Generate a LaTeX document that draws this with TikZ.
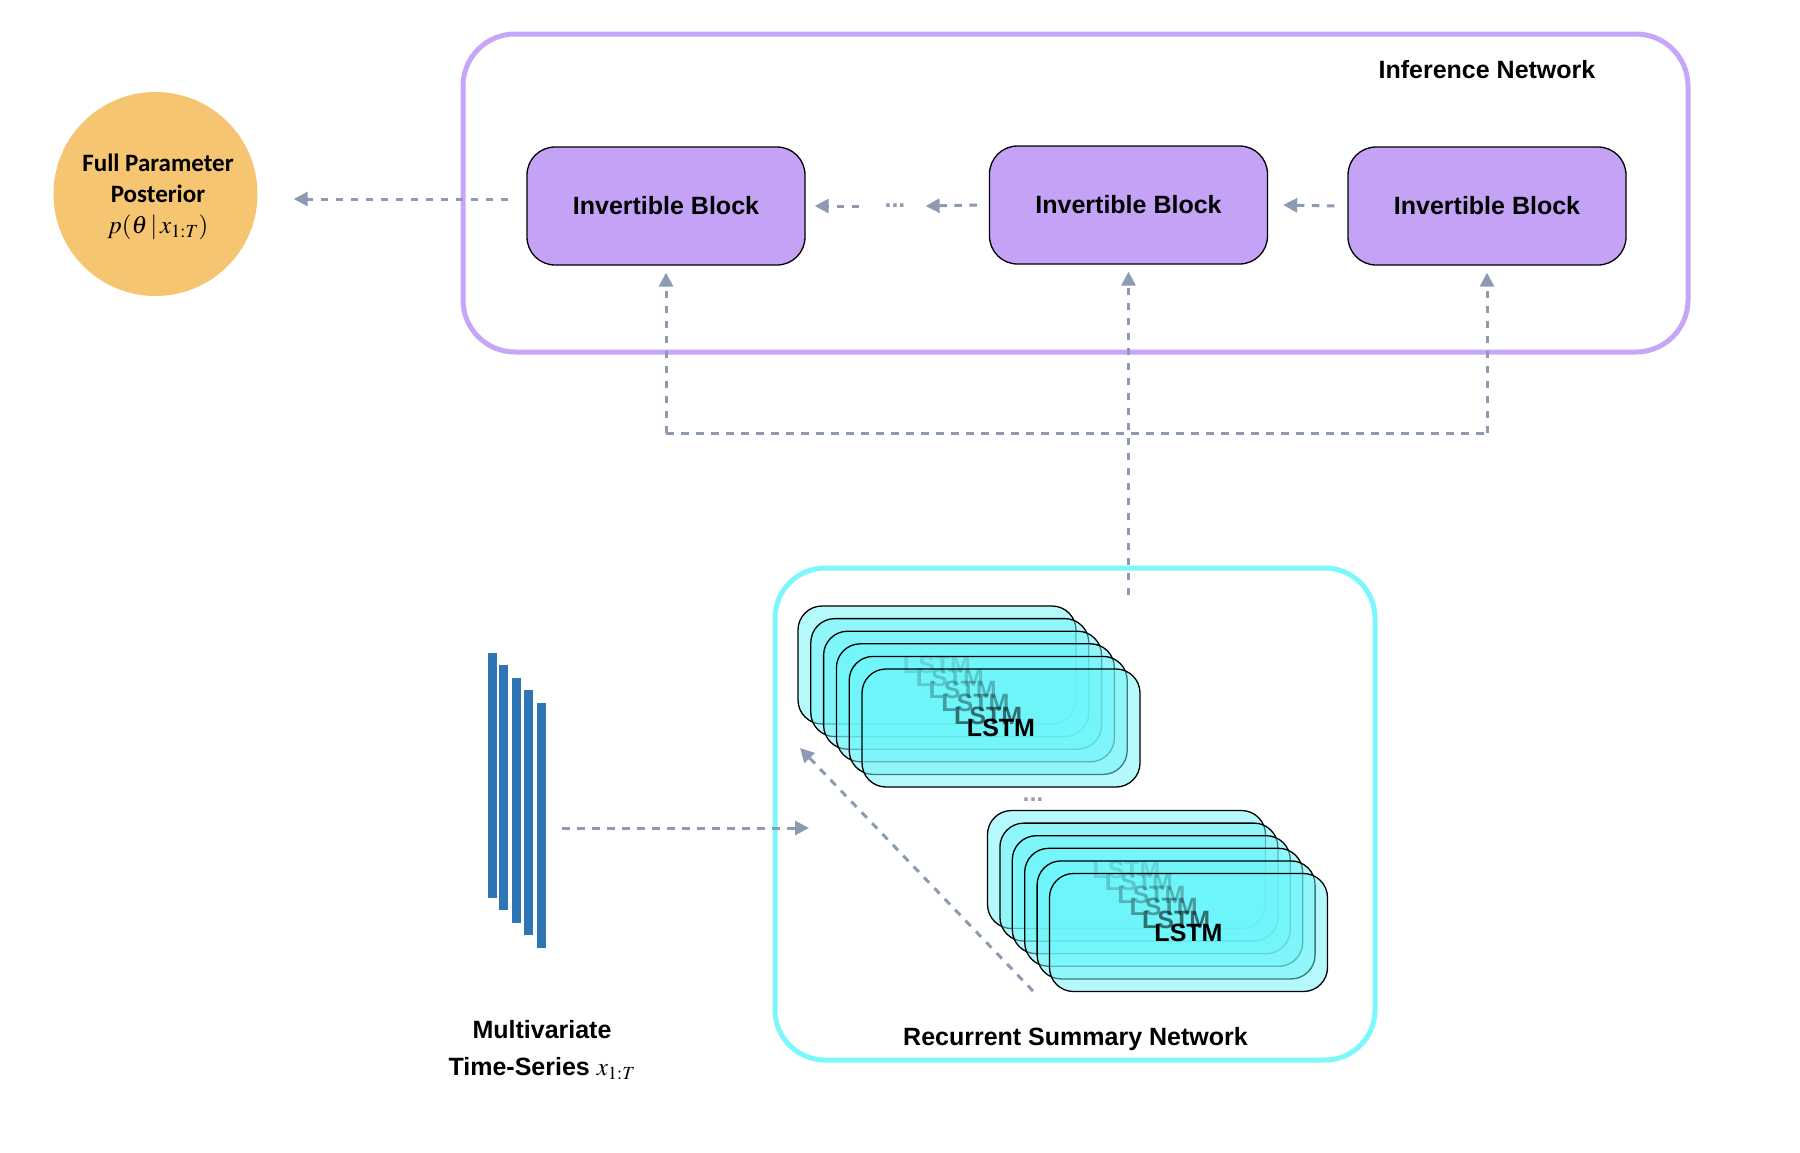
\documentclass[tikz,border=0pt]{standalone}
\usepackage{mathptmx}
\usepackage[no-math]{fontspec}
\setmainfont{Liberation Sans}
\newfontfamily\calibri{Carlito}
\usetikzlibrary{arrows.meta}
\definecolor{arrc}{HTML}{8C9BB1}
\definecolor{purpline}{HTML}{C6A6F8}
\definecolor{purpfill}{HTML}{C4A3F7}
\definecolor{cyanline}{HTML}{7CF8FC}
\definecolor{lstmc}{HTML}{6CF5FA}
\definecolor{postc}{HTML}{F5C571}
\definecolor{barc}{HTML}{2E75B6}
\begin{document}
\begin{tikzpicture}[x=1pt,y=-1pt,
  lbl/.style={font=\fontsize{25}{30}\selectfont\bfseries, inner sep=0pt},
  arr/.style={draw=arrc, line width=3pt, dash pattern=on 7.5pt off 7.5pt, -{Triangle[length=14pt,width=14pt]}},
  dl/.style={draw=arrc, line width=3pt, dash pattern=on 7.5pt off 7.5pt},
  blk/.style={lbl, draw=black, line width=1.3pt, fill=purpfill, rounded corners=28pt, minimum width=278pt, minimum height=118pt},
  lstmbox/.style={draw=black, line width=1.3pt, fill=lstmc, fill opacity=0.5, draw opacity=1, rounded corners=24pt, minimum width=278pt, minimum height=118pt, inner sep=0pt},
  lstmtxt/.style={lbl, text=black},
  bar/.style={fill=barc, minimum width=9pt, minimum height=245pt, inner sep=0pt},
]
\fill[white] (0,0) rectangle (1800,1152);
\useasboundingbox (0,0) rectangle (1800,1152);

% posterior
\node[circle, fill=postc, minimum size=204pt, inner sep=0pt] (post) at (155.5,194) {};
\node[font=\calibri\bfseries\fontsize{25}{31}\selectfont, align=center, inner sep=0pt] (posttxt) at (158,197) {Full Parameter\\Posterior\\$p(\theta\,|\,x_{1:T})$};

% inference network
\node[draw=purpline, line width=5pt, rounded corners=52pt, minimum width=1225pt, minimum height=318pt] (inf) at (1075.5,193) {};
\node[lbl, anchor=base] (inflbl) at (1487,78) {Inference Network};
\node[blk] (b1) at (666,206) {Invertible Block};
\node[blk] (b2) at (1128.5,205) {Invertible Block};
\node[blk] (b3) at (1487,206) {Invertible Block};
\node[lbl, text=arrc] (dots1) at (895,206) {...};

\draw[arr] ([xshift=-13pt]b3.west) -- ([xshift=15pt]b2.east);
\draw[arr] ([xshift=-12pt]b2.west) -- ([xshift=20pt]dots1.east);
\draw[arr] ([xshift=-25pt]dots1.west) -- ([xshift=9pt]b1.east);
\coordinate (pout) at ([xshift=-18pt,yshift=7pt]b1.west);
\coordinate (pin) at ([xshift=36pt]post.east);
\draw[arr] (pout) -- (pout -| pin);

% summary network
\node[draw=cyanline, line width=5pt, rounded corners=50pt, minimum width=600pt, minimum height=492pt] (sum) at (1075,814) {};
\node[lbl, anchor=base] (sumlbl) at (1075.5,1045) {Recurrent Summary Network};

\foreach \k in {0,...,5}{
  \node[lstmbox] (sa\k) at ({937+12.8*\k},{665+12.6*\k}) {};
}
\foreach \k/\op in {0/0.12,1/0.18,2/0.26,3/0.36,4/0.55,5/1}{
  \node[lstmtxt, text opacity=\op] (sat\k) at (sa\k) {LSTM};
}
\foreach \k in {0,...,5}{
  \node[lstmbox] (sb\k) at ({1126.5+12.4*\k},{869.5+12.6*\k}) {};
}
\foreach \k/\op in {0/0.12,1/0.18,2/0.26,3/0.36,4/0.55,5/1}{
  \node[lstmtxt, text opacity=\op] (sbt\k) at (sb\k) {LSTM};
}
\node[lbl, text=gray!75] (dots2) at (1033,800) {...};

% connections summary -> inference
\coordinate (sumtop) at (1128.5,595);
\coordinate (junc) at (1128.5,433);
\draw[dl] (b1.south |- junc) -- (b3.south |- junc);
\draw[arr] (sumtop) -- ([yshift=-7pt]b2.south);
\draw[arr] (b1.south |- junc) -- ([yshift=-7pt]b1.south);
\draw[arr] (b3.south |- junc) -- ([yshift=-7pt]b3.south);

% diagonal recurrence arrow
\coordinate (dgs) at (1033,991);
\coordinate (dge) at (800,748);
\draw[arr] (dgs) -- (dge);

% time series
\node[bar] (bar1) at (492.2,775) {};
\node[bar] (bar2) at (503.5,787.5) {};
\node[bar] (bar3) at (516.5,800.5) {};
\node[bar] (bar4) at (528.8,812.5) {};
\node[bar] (bar5) at (541.5,825.5) {};
\coordinate (tsout) at (562,828);
\coordinate (tsin) at (809,828);
\draw[arr] (tsout) -- (tsin);
\node[lbl, align=center, font=\fontsize{25}{37}\selectfont\bfseries] (tslbl) at (542,1050) {Multivariate\\Time-Series $x_{1:T}$};
\end{tikzpicture}
\end{document}
